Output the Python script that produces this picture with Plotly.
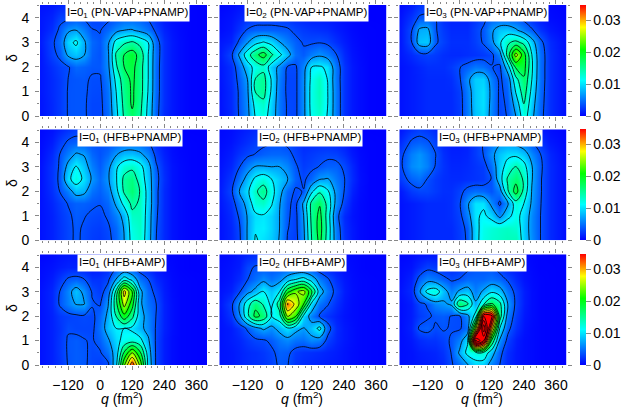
import numpy as np
import plotly.graph_objects as go

# values, in units of 1e-4, rows go from delta=0 up to delta=4.5
q = [-220, -180, -150, -120, -90, -60, -30, 0, 30, 60, 90, 120, 150, 180, 210, 240, 270, 300, 340, 400]
delta = [0, 0.5, 1, 1.5, 2, 2.5, 3, 3.5, 4, 4.5]

pnvap_1 = [
    [9, 17, 25, 36, 37, 37, 30, 30, 45, 95, 145, 168, 145, 95, 42, 18, 10, 5, 1, 0],
    [9, 17, 25, 36, 37, 37, 30, 30, 48, 100, 150, 180, 150, 98, 43, 20, 10, 5, 1, 0],
    [10, 18, 25, 36, 37, 37, 32, 31, 50, 105, 155, 180, 155, 103, 45, 20, 10, 5, 1, 0],
    [10, 18, 25, 35, 37, 38, 33, 33, 55, 115, 160, 182, 155, 105, 45, 20, 10, 5, 1, 0],
    [10, 20, 28, 33, 45, 42, 38, 38, 62, 135, 175, 185, 155, 105, 45, 20, 10, 5, 1, 0],
    [10, 28, 40, 75, 85, 72, 42, 36, 65, 145, 175, 192, 160, 105, 47, 20, 10, 5, 1, 0],
    [12, 30, 48, 92, 112, 75, 45, 38, 65, 118, 135, 145, 130, 105, 45, 20, 10, 5, 1, 0],
    [10, 20, 40, 65, 70, 55, 36, 34, 45, 60, 70, 72, 62, 50, 30, 15, 8, 4, 1, 0],
    [10, 15, 28, 30, 36, 32, 28, 28, 30, 36, 42, 42, 40, 32, 20, 10, 5, 3, 1, 0],
    [8, 10, 15, 20, 25, 20, 15, 15, 20, 25, 25, 25, 25, 20, 12, 8, 5, 2, 1, 0],
]
pnvap_2 = [
    [8, 17, 37, 60, 108, 122, 88, 52, 32, 30, 62, 115, 130, 102, 52, 22, 10, 5, 1, 0],
    [8, 18, 38, 62, 118, 132, 92, 52, 32, 30, 62, 118, 135, 105, 52, 22, 10, 5, 1, 0],
    [8, 18, 38, 64, 142, 152, 100, 52, 30, 30, 62, 118, 138, 105, 52, 22, 10, 5, 1, 0],
    [9, 20, 42, 70, 142, 152, 102, 55, 30, 30, 62, 115, 135, 103, 50, 22, 10, 5, 1, 0],
    [10, 20, 50, 88, 118, 130, 88, 62, 32, 32, 58, 105, 108, 100, 50, 22, 10, 5, 1, 0],
    [12, 30, 75, 125, 165, 190, 145, 112, 82, 48, 40, 55, 65, 55, 37, 18, 8, 4, 1, 0],
    [10, 15, 40, 68, 95, 108, 95, 72, 55, 42, 33, 32, 34, 30, 20, 12, 6, 3, 1, 0],
    [6, 10, 22, 37, 42, 42, 42, 40, 38, 30, 25, 22, 20, 18, 12, 8, 4, 2, 1, 0],
    [5, 8, 14, 20, 24, 25, 25, 25, 22, 18, 15, 12, 12, 10, 8, 5, 3, 1, 0, 0],
    [3, 5, 8, 12, 14, 15, 15, 14, 12, 10, 8, 8, 8, 6, 5, 3, 2, 1, 0, 0],
]
pnvap_3 = [
    [8, 12, 15, 18, 18, 18, 18, 25, 52, 85, 95, 58, 30, 36, 70, 125, 78, 42, 20, 5],
    [8, 12, 15, 18, 18, 18, 18, 25, 53, 88, 98, 60, 30, 38, 85, 140, 85, 44, 20, 5],
    [8, 12, 15, 18, 18, 18, 18, 26, 55, 88, 98, 62, 30, 42, 108, 158, 95, 46, 20, 5],
    [8, 12, 15, 18, 18, 18, 20, 32, 62, 90, 92, 55, 30, 50, 130, 170, 105, 48, 20, 5],
    [8, 12, 16, 20, 20, 20, 25, 34, 42, 52, 48, 36, 30, 90, 180, 190, 110, 48, 20, 5],
    [10, 18, 25, 28, 25, 20, 18, 18, 20, 22, 25, 30, 55, 155, 260, 190, 105, 48, 20, 5],
    [10, 32, 85, 88, 38, 28, 20, 20, 20, 27, 37, 60, 100, 135, 150, 130, 85, 42, 18, 5],
    [10, 32, 75, 78, 37, 25, 18, 18, 18, 28, 38, 65, 85, 88, 75, 55, 38, 22, 10, 3],
    [8, 22, 38, 40, 35, 20, 15, 15, 15, 22, 30, 42, 42, 40, 36, 28, 18, 10, 5, 2],
    [5, 12, 22, 25, 22, 14, 10, 10, 10, 15, 20, 28, 30, 28, 25, 18, 12, 6, 3, 1],
]
hfb_pnamp_1 = [
    [8, 14, 22, 30, 38, 32, 26, 24, 30, 42, 70, 118, 130, 85, 35, 18, 8, 4, 1, 0],
    [8, 14, 22, 30, 38, 33, 28, 26, 32, 45, 72, 122, 133, 87, 36, 18, 8, 4, 1, 0],
    [8, 14, 23, 31, 40, 36, 32, 30, 38, 55, 80, 132, 135, 88, 38, 18, 8, 4, 1, 0],
    [8, 16, 26, 36, 42, 42, 38, 36, 45, 75, 115, 148, 135, 92, 40, 18, 8, 4, 1, 0],
    [8, 20, 36, 55, 84, 78, 50, 42, 55, 95, 145, 165, 138, 92, 40, 18, 8, 4, 1, 0],
    [8, 22, 40, 96, 122, 98, 66, 46, 66, 102, 148, 160, 125, 88, 42, 20, 8, 4, 1, 0],
    [8, 22, 38, 80, 108, 85, 55, 40, 60, 100, 125, 132, 115, 82, 38, 18, 8, 4, 1, 0],
    [6, 18, 36, 55, 74, 68, 45, 36, 46, 68, 82, 84, 76, 58, 28, 14, 6, 3, 1, 0],
    [5, 12, 26, 38, 42, 40, 36, 35, 36, 40, 44, 46, 44, 36, 20, 10, 5, 2, 1, 0],
    [4, 8, 15, 22, 28, 25, 22, 22, 24, 26, 28, 28, 26, 20, 12, 6, 3, 1, 0, 0],
]
hfb_pnamp_2 = [
    [8, 16, 30, 72, 108, 98, 88, 68, 33, 26, 62, 140, 185, 125, 55, 22, 10, 4, 1, 0],
    [8, 16, 32, 72, 102, 105, 92, 70, 36, 28, 65, 145, 190, 128, 52, 20, 10, 4, 1, 0],
    [8, 18, 38, 72, 98, 102, 92, 70, 38, 28, 70, 150, 185, 125, 45, 18, 8, 4, 1, 0],
    [10, 22, 50, 82, 125, 132, 108, 72, 40, 28, 76, 150, 172, 130, 62, 28, 10, 4, 1, 0],
    [12, 30, 72, 98, 135, 155, 118, 82, 46, 32, 36, 98, 135, 110, 62, 36, 14, 5, 1, 0],
    [10, 24, 50, 82, 112, 125, 105, 88, 72, 42, 31, 45, 68, 72, 52, 37, 18, 6, 1, 0],
    [8, 16, 34, 55, 72, 72, 70, 70, 58, 38, 26, 30, 36, 42, 42, 32, 16, 5, 1, 0],
    [6, 12, 22, 30, 36, 42, 45, 45, 42, 30, 22, 25, 28, 30, 28, 20, 10, 4, 1, 0],
    [5, 8, 14, 20, 26, 30, 33, 34, 30, 25, 18, 18, 18, 18, 15, 12, 6, 2, 1, 0],
    [4, 6, 10, 14, 18, 20, 22, 22, 20, 16, 12, 12, 12, 10, 8, 6, 4, 1, 0, 0],
]
hfb_pnamp_3 = [
    [8, 12, 15, 18, 18, 18, 18, 25, 38, 95, 120, 128, 132, 137, 138, 90, 60, 36, 18, 5],
    [8, 12, 15, 18, 18, 18, 18, 26, 40, 95, 118, 125, 130, 133, 128, 88, 58, 36, 18, 5],
    [8, 12, 15, 18, 18, 18, 20, 28, 55, 100, 110, 95, 60, 95, 118, 92, 58, 36, 18, 5],
    [8, 12, 15, 18, 18, 18, 20, 32, 65, 100, 100, 60, 30, 65, 125, 105, 65, 37, 18, 5],
    [10, 25, 30, 30, 25, 20, 20, 28, 42, 48, 45, 36, 55, 135, 190, 130, 68, 38, 18, 5],
    [25, 42, 48, 34, 25, 20, 18, 18, 20, 22, 25, 36, 90, 145, 165, 135, 72, 38, 18, 5],
    [30, 60, 67, 56, 33, 22, 16, 16, 18, 22, 26, 48, 90, 118, 142, 118, 72, 40, 18, 5],
    [28, 55, 65, 52, 36, 20, 14, 14, 16, 25, 36, 62, 85, 98, 98, 85, 58, 37, 16, 4],
    [18, 38, 42, 38, 28, 16, 12, 12, 14, 25, 36, 48, 65, 66, 60, 50, 36, 22, 10, 3],
    [10, 22, 28, 24, 18, 12, 10, 10, 12, 18, 25, 32, 38, 40, 36, 30, 20, 12, 6, 2],
]
hfb_amp_1 = [
    [8, 14, 22, 36, 40, 38, 30, 26, 30, 95, 240, 340, 235, 95, 30, 12, 5, 2, 1, 0],
    [8, 14, 24, 37, 40, 38, 31, 33, 50, 85, 180, 245, 180, 88, 30, 12, 5, 2, 1, 0],
    [8, 14, 24, 37, 40, 36, 33, 42, 65, 95, 115, 125, 115, 75, 30, 12, 5, 2, 1, 0],
    [8, 14, 22, 33, 30, 30, 30, 50, 85, 105, 105, 98, 78, 60, 32, 14, 6, 2, 1, 0],
    [8, 14, 24, 28, 30, 32, 30, 45, 78, 140, 200, 150, 82, 58, 34, 14, 6, 2, 1, 0],
    [8, 16, 38, 55, 72, 72, 37, 33, 68, 165, 260, 190, 75, 50, 35, 14, 6, 2, 1, 0],
    [8, 16, 36, 58, 85, 62, 33, 25, 48, 150, 295, 210, 78, 45, 28, 12, 5, 2, 1, 0],
    [6, 12, 24, 38, 42, 36, 22, 22, 30, 72, 125, 95, 50, 35, 18, 10, 4, 2, 1, 0],
    [5, 8, 12, 15, 15, 12, 10, 12, 18, 30, 33, 30, 22, 15, 8, 5, 3, 1, 0, 0],
    [3, 5, 8, 10, 10, 8, 8, 8, 10, 14, 15, 15, 12, 8, 5, 3, 2, 1, 0, 0],
]
hfb_amp_2 = [
    [8, 10, 14, 18, 20, 22, 28, 38, 36, 22, 18, 16, 14, 12, 10, 8, 5, 3, 2, 1],
    [8, 10, 14, 18, 20, 24, 30, 42, 40, 26, 22, 20, 18, 15, 12, 8, 5, 3, 2, 1],
    [8, 12, 16, 24, 30, 32, 40, 52, 60, 50, 48, 60, 55, 28, 16, 10, 6, 3, 2, 1],
    [8, 12, 22, 38, 60, 75, 62, 80, 100, 80, 68, 85, 115, 45, 18, 10, 6, 3, 2, 1],
    [8, 22, 60, 130, 185, 165, 105, 125, 250, 215, 95, 55, 32, 22, 14, 8, 5, 3, 2, 1],
    [10, 28, 70, 125, 165, 135, 95, 160, 320, 270, 210, 95, 50, 37, 20, 10, 5, 3, 2, 1],
    [8, 14, 32, 60, 80, 108, 85, 105, 200, 240, 258, 180, 85, 52, 28, 12, 6, 3, 2, 1],
    [6, 10, 18, 34, 48, 62, 50, 60, 85, 105, 118, 90, 55, 38, 20, 10, 5, 3, 2, 1],
    [5, 8, 12, 30, 37, 37, 37, 38, 38, 36, 32, 28, 20, 14, 10, 6, 4, 2, 1, 1],
    [4, 6, 10, 16, 20, 22, 22, 24, 24, 20, 16, 14, 12, 10, 8, 5, 3, 2, 1, 0],
]
hfb_amp_3 = [
    [6, 8, 10, 12, 14, 18, 33, 45, 68, 92, 88, 55, 35, 18, 10, 6, 4, 2, 1, 0],
    [6, 8, 12, 14, 16, 22, 36, 75, 115, 125, 130, 85, 42, 20, 10, 6, 4, 2, 1, 0],
    [6, 10, 18, 22, 22, 28, 38, 55, 100, 500, 420, 170, 65, 28, 12, 6, 4, 2, 1, 0],
    [6, 14, 38, 42, 32, 37, 33, 32, 48, 260, 520, 300, 105, 42, 20, 8, 4, 2, 1, 0],
    [6, 12, 25, 32, 38, 40, 34, 32, 60, 120, 420, 400, 160, 55, 25, 10, 5, 2, 1, 0],
    [6, 12, 30, 37, 58, 65, 75, 170, 145, 75, 135, 180, 150, 70, 30, 12, 5, 2, 1, 0],
    [8, 18, 65, 115, 125, 85, 55, 75, 85, 55, 75, 100, 85, 52, 28, 12, 5, 2, 1, 0],
    [6, 14, 42, 58, 52, 42, 32, 36, 45, 45, 45, 50, 45, 32, 18, 8, 4, 2, 1, 0],
    [5, 8, 18, 28, 25, 18, 18, 22, 30, 36, 37, 36, 25, 15, 10, 6, 3, 1, 1, 0],
    [3, 5, 8, 10, 10, 10, 10, 12, 15, 18, 20, 20, 15, 10, 6, 4, 2, 1, 0, 0],
]

panels = [pnvap_1, pnvap_2, pnvap_3,
          hfb_pnamp_1, hfb_pnamp_2, hfb_pnamp_3,
          hfb_amp_1, hfb_amp_2, hfb_amp_3]
labels = ["I=0<sub>1</sub> (PN-VAP+PNAMP)", "I=0<sub>2</sub> (PN-VAP+PNAMP)", "I=0<sub>3</sub> (PN-VAP+PNAMP)",
          "I=0<sub>1</sub> (HFB+PNAMP)", "I=0<sub>2</sub> (HFB+PNAMP)", "I=0<sub>3</sub> (HFB+PNAMP)",
          "I=0<sub>1</sub> (HFB+AMP)", "I=0<sub>2</sub> (HFB+AMP)", "I=0<sub>3</sub> (HFB+AMP)"]
label_x = [127.5, 306.5, 486.5, 130, 309.5, 489.5, 122, 302, 482]
label_y = [13.5, 13.5, 13.5, 137.5, 137.5, 137.5, 263, 263, 263]

q_ticks = [-120, 0, 120, 240, 360]
delta_ticks = [0, 1, 2, 3, 4]
cbar_ticks = [0, 0.01, 0.02, 0.03]
cbar_text = ["0", "0.01", "0.02", "0.03"]

W, H = 626, 408
col_x = [(40, 207), (219.3, 386.7), (399.3, 566.7)]
row_y = [(5, 116), (129.3, 240.3), (254.3, 365)]
ZMAX = 0.0347
FONT = "Liberation Sans"
scale = [[0, "#0000ff"], [0.32, "#00ffff"], [0.6, "#00ff00"], [0.8, "#ffff00"], [1, "#ff0000"]]

fig = go.Figure()
layout = dict(width=W, height=H, margin=dict(l=0, r=0, t=0, b=0), showlegend=False,
              paper_bgcolor="white", plot_bgcolor="white", font=dict(family=FONT, size=14, color="black"))

for i, panel in enumerate(panels):
    r, c = i // 3, i % 3
    n = "" if i == 0 else str(i + 1)
    z = np.array(panel) * 1e-4
    cb = dict(thickness=6, x=580 / W, xanchor="left", xpad=0, ypad=0, len=(row_y[r][1] - row_y[r][0]) / H,
              y=1 - row_y[r][1] / H, yanchor="bottom", outlinewidth=0, ticks="outside", ticklen=5,
              tickcolor="#888888", tickvals=cbar_ticks, ticktext=cbar_text, tickfont=dict(size=14))
    fig.add_trace(go.Heatmap(x=q, y=delta, z=z, zmin=0, zmax=ZMAX, zsmooth="best", colorscale=scale,
                             showscale=c == 2, colorbar=cb, xaxis="x" + n, yaxis="y" + n, hoverinfo="skip"))
    fig.add_trace(go.Contour(x=q, y=delta, z=z, showscale=False, xaxis="x" + n, yaxis="y" + n, hoverinfo="skip",
                             contours=dict(coloring="none", start=0.0035, end=0.0525, size=0.0035),
                             line=dict(color="black", width=0.8, smoothing=1)))
    layout["xaxis" + n] = dict(domain=[col_x[c][0] / W, col_x[c][1] / W], range=[-225, 400], anchor="y" + n,
                               tickvals=q_ticks, ticks="outside", ticklen=4, tickcolor="#888888",
                               showticklabels=r == 2, showgrid=False, zeroline=False, mirror="ticks",
                               showline=False, tickfont=dict(size=14), ticklabelstandoff=3, automargin=False,
                               minor=dict(dtick=24, tick0=0, ticks="outside", ticklen=2, tickcolor="#888888", showgrid=False))
    layout["yaxis" + n] = dict(domain=[1 - row_y[r][1] / H, 1 - row_y[r][0] / H], range=[0, 4.53], anchor="x" + n,
                               tickvals=delta_ticks, ticks="outside", ticklen=4, tickcolor="#888888",
                               showticklabels=c == 0, showgrid=False, zeroline=False, mirror="ticks",
                               showline=False, tickfont=dict(size=14), ticklabelstandoff=3, automargin=False,
                               minor=dict(dtick=0.5, tick0=0, ticks="outside", ticklen=2, tickcolor="#888888", showgrid=False))

fig.update_layout(**layout)
for text, x, y in zip(labels, label_x, label_y):
    fig.add_annotation(text=text, x=x / W, y=1 - y / H, xref="paper", yref="paper", showarrow=False,
                       xanchor="center", yanchor="middle",
                       bgcolor="white", font=dict(size=11.5, color="black"), borderpad=1)
# axis titles as annotations, an axis title would push the panels up through automargin
for x in [122, 302, 482]:
    fig.add_annotation(text="<i>q</i> (fm<sup>2</sup>)", x=x / W, y=0, xref="paper", yref="paper",
                       showarrow=False, xanchor="center", yanchor="bottom", font=dict(size=14), borderpad=0)
for y in [58, 183, 308]:
    fig.add_annotation(text="δ", x=12 / W, y=1 - y / H, xref="paper", yref="paper", textangle=-90,
                       showarrow=False, xanchor="center", yanchor="middle", font=dict(size=14))

# the page has a default body margin, drop it so pixel positions hold
fig.write_html("out.html", config=dict(displayModeBar=False),
               post_script="document.body.style.margin='0';document.documentElement.style.overflow='hidden';")
